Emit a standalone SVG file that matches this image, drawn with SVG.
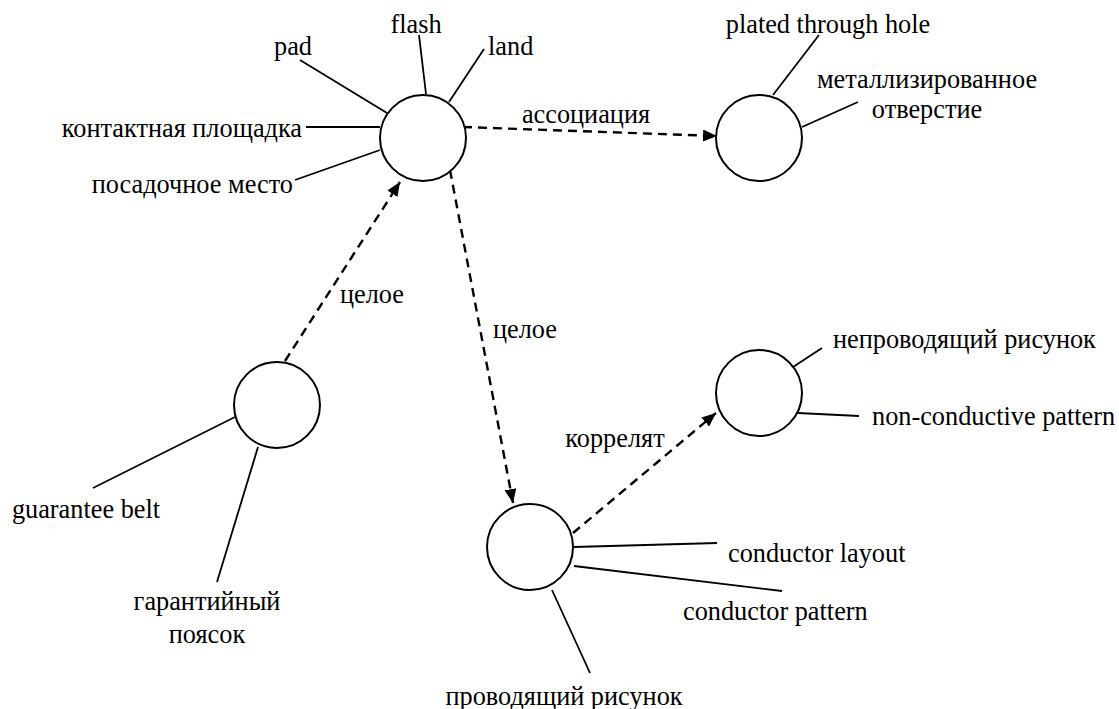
<svg xmlns="http://www.w3.org/2000/svg" width="1119" height="709" viewBox="0 0 1119 709">
  <style>
    .node { fill: #ffffff; stroke: #000000; stroke-width: 2; }
    .term { fill: none; stroke: #000000; stroke-width: 1.8; }
    .rel { fill: none; stroke: #000000; stroke-width: 2.4; stroke-dasharray: 9 6; }
    text { font-family: "Liberation Serif", "DejaVu Serif Condensed", "DejaVu Serif", serif; font-size: 26.3px; fill: #000000; }
    .mid { text-anchor: middle; }
  </style>
  <defs>
    <marker id="arrow" viewBox="0 0 14 12" refX="14" refY="6" markerWidth="14" markerHeight="12" markerUnits="userSpaceOnUse" orient="auto">
      <path d="M0,0 L14,6 L0,12 Z" fill="#000000"/>
    </marker>
  </defs>
  <rect width="1119" height="709" fill="#ffffff"/>

  <!-- relations between concepts -->
  <g id="connectors">
    <line class="rel" x1="463" y1="127" x2="717" y2="136" marker-end="url(#arrow)"/>
    <line class="rel" x1="285" y1="361" x2="400" y2="182" marker-end="url(#arrow)"/>
    <line class="rel" x1="450" y1="170" x2="513" y2="503" marker-end="url(#arrow)"/>
    <line class="rel" x1="573" y1="533" x2="716" y2="413" marker-end="url(#arrow)"/>
    <text x="586" y="123" class="mid">ассоциация</text>
    <text x="372" y="303" class="mid">целое</text>
    <text x="525" y="338" class="mid">целое</text>
    <text x="615" y="447" class="mid">коррелят</text>
  </g>

  <!-- land / pad concept -->
  <g id="node-land">
    <line class="term" x1="300" y1="60" x2="387" y2="113"/>
    <line class="term" x1="419" y1="35" x2="426" y2="94"/>
    <line class="term" x1="484" y1="49" x2="449" y2="102"/>
    <line class="term" x1="306" y1="127" x2="380" y2="127"/>
    <line class="term" x1="295" y1="180" x2="380" y2="150"/>
    <circle class="node" cx="423" cy="138" r="43"/>
    <text x="293" y="55" class="mid">pad</text>
    <text x="416" y="33" class="mid">flash</text>
    <text x="488" y="55">land</text>
    <text x="302" y="137" text-anchor="end">контактная площадка</text>
    <text x="293" y="193" text-anchor="end">посадочное место</text>
  </g>

  <!-- plated through hole concept -->
  <g id="node-pth">
    <line class="term" x1="819" y1="35" x2="773" y2="95"/>
    <line class="term" x1="858" y1="102" x2="802" y2="127"/>
    <circle class="node" cx="759" cy="138" r="43"/>
    <text x="828" y="33" class="mid">plated through hole</text>
    <text x="927" y="88" class="mid">металлизированное</text>
    <text x="927" y="118" class="mid">отверстие</text>
  </g>

  <!-- guarantee belt concept -->
  <g id="node-belt">
    <line class="term" x1="93" y1="488" x2="235" y2="417"/>
    <line class="term" x1="217" y1="582" x2="258" y2="447"/>
    <circle class="node" cx="277" cy="405" r="43"/>
    <text x="86" y="518" class="mid">guarantee belt</text>
    <text x="207" y="610" class="mid">гарантийный</text>
    <text x="207" y="643" class="mid">поясок</text>
  </g>

  <!-- non-conductive pattern concept -->
  <g id="node-nonconductive">
    <line class="term" x1="822" y1="348" x2="793" y2="367"/>
    <line class="term" x1="798" y1="413" x2="859" y2="416"/>
    <circle class="node" cx="759" cy="393" r="43"/>
    <text x="833" y="348">непроводящий рисунок</text>
    <text x="872" y="425">non-conductive pattern</text>
  </g>

  <!-- conductor pattern concept -->
  <g id="node-conductor">
    <line class="term" x1="574" y1="547" x2="717" y2="543"/>
    <line class="term" x1="574" y1="566" x2="782" y2="591"/>
    <line class="term" x1="552" y1="590" x2="590" y2="673"/>
    <circle class="node" cx="530" cy="547" r="43"/>
    <text x="728" y="562">conductor layout</text>
    <text x="683" y="620">conductor pattern</text>
    <text x="564" y="705" class="mid">проводящий рисунок</text>
  </g>
</svg>
